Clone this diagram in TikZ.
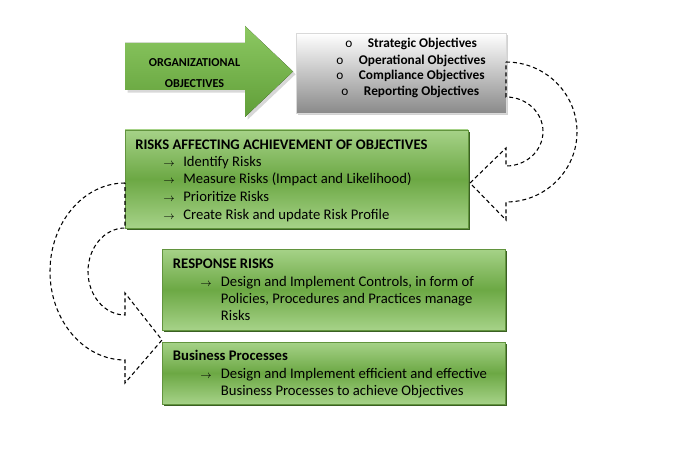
\documentclass[tikz,border=0pt]{standalone}
\usepackage{fontspec}
\setmainfont{Carlito}
\usetikzlibrary{shadows}
\definecolor{boxlight}{RGB}{166,210,136}
\definecolor{boxdark}{RGB}{108,168,68}
\definecolor{boxline}{RGB}{98,148,62}
\definecolor{boxshade}{RGB}{58,96,34}
\definecolor{arrowlight}{RGB}{140,200,98}
\definecolor{arrowdark}{RGB}{96,158,56}
\definecolor{graydark}{RGB}{138,138,138}
\newcommand{\arr}{{\footnotesize$\rightarrow$}}
\newcommand{\bulo}{\makebox[17pt][l]{\mdseries o}}
\tikzset{
	greenbox/.style={draw=boxline, line width=0.6pt, top color=boxlight, bottom color=boxlight, middle color=boxdark,
		general shadow={fill=boxshade, shadow xshift=1.8pt, shadow yshift=-1.8pt}, inner sep=0pt},
	graybox/.style={draw=gray!30, top color=white, bottom color=graydark,
		drop shadow={opacity=0.35, shadow xshift=1.5pt, shadow yshift=-1.5pt}, inner sep=0pt},
	txt/.style={anchor=base west, inner sep=0pt, font=\fontsize{11}{13}\selectfont},
	hdr/.style={txt, font=\fontsize{11}{13}\selectfont\bfseries},
	goal/.style={anchor=base west, inner sep=0pt, font=\fontsize{10}{12}\selectfont\bfseries},
	swirl/.style={draw=black, line width=0.8pt, dash pattern=on 3pt off 2.2pt}
}
\begin{document}
\begin{tikzpicture}[x=0.75pt,y=-0.75pt]
	\useasboundingbox[fill=white] (0,0) rectangle (696,449);

	\fill[top color=arrowlight, bottom color=arrowdark, drop shadow={opacity=0.3, shadow xshift=2pt, shadow yshift=-2pt}]
		(125,43) -- (245,43) -- (245,26) -- (293,71.5) -- (245,117) -- (245,90) -- (125,90) -- cycle;
	\node[align=center, inner sep=0pt, font=\fontsize{9.1}{16.3}\selectfont\bfseries] (org) at (194.5,73) {ORGANIZATIONAL\\OBJECTIVES};

	\node[graybox, minimum width=157.5pt, minimum height=60pt] (goals) at (401,73) {};
	\node[goal] (g1) at (345,47.7) {\bulo Strategic Objectives};
	\node[goal] (g2) at (336,64.3) {\bulo Operational Objectives};
	\node[goal] (g3) at (336,80) {\bulo Compliance Objectives};
	\node[goal] (g4) at (341,96) {\bulo Reporting Objectives};

	\node[greenbox, minimum width=257.25pt, minimum height=73.5pt] (risk) at (296.5,179) {};
	\node[hdr] (r0) at (135,149.3) {RISKS AFFECTING ACHIEVEMENT OF OBJECTIVES};
	\node[txt] (r1) at (163,166.7) {\makebox[15pt][l]{\arr}Identify Risks};
	\node[txt] (r2) at (163,184) {\makebox[15pt][l]{\arr}Measure Risks (Impact and Likelihood)};
	\node[txt] (r3) at (163,201.7) {\makebox[15pt][l]{\arr}Prioritize Risks};
	\node[txt] (r4) at (163,219.3) {\makebox[15pt][l]{\arr}Create Risk and update Risk Profile};

	\node[greenbox, minimum width=257.25pt, minimum height=60.75pt] (resp) at (333.5,289.5) {};
	\node[hdr] (s0) at (172.7,268.3) {RESPONSE RISKS};
	\node[txt] (s1) at (200,286) {\makebox[15.5pt][l]{\arr}Design and Implement Controls, in form of};
	\node[txt] (s2) at (220.7,303.3) {Policies, Procedures and Practices manage};
	\node[txt] (s3) at (220.7,320.7) {Risks};

	\node[greenbox, minimum width=257.25pt, minimum height=46.5pt] (proc) at (333.5,373) {};
	\node[hdr] (p0) at (172.7,360.7) {Business Processes};
	\node[txt] (p1) at (200,378.3) {\makebox[15.5pt][l]{\arr}Design and Implement efficient and effective};
	\node[txt] (p2) at (220.7,395.7) {Business Processes to achieve Objectives};

	\draw[swirl] (506,62) .. controls (545.2,62) and (577,93.3) .. (577,132)
		.. controls (577,170.7) and (545.2,202) .. (506,202) -- (506,220) -- (470,183) -- (506,148) -- (506,166)
		.. controls (526.4,166) and (543,150.6) .. (543,131.5) .. controls (543,112.4) and (526.4,97) .. (506,97) -- cycle;
	\draw[swirl] (125,183) .. controls (83.6,183) and (50,222.6) .. (50,271.5)
		.. controls (50,320.4) and (83.6,360) .. (125,360) -- (125,383) -- (162,340) -- (125,293) -- (125,315)
		.. controls (104.6,315) and (88,295.5) .. (88,271.5) .. controls (88,247.5) and (104.6,228) .. (125,228) -- cycle;
\end{tikzpicture}
\end{document}
